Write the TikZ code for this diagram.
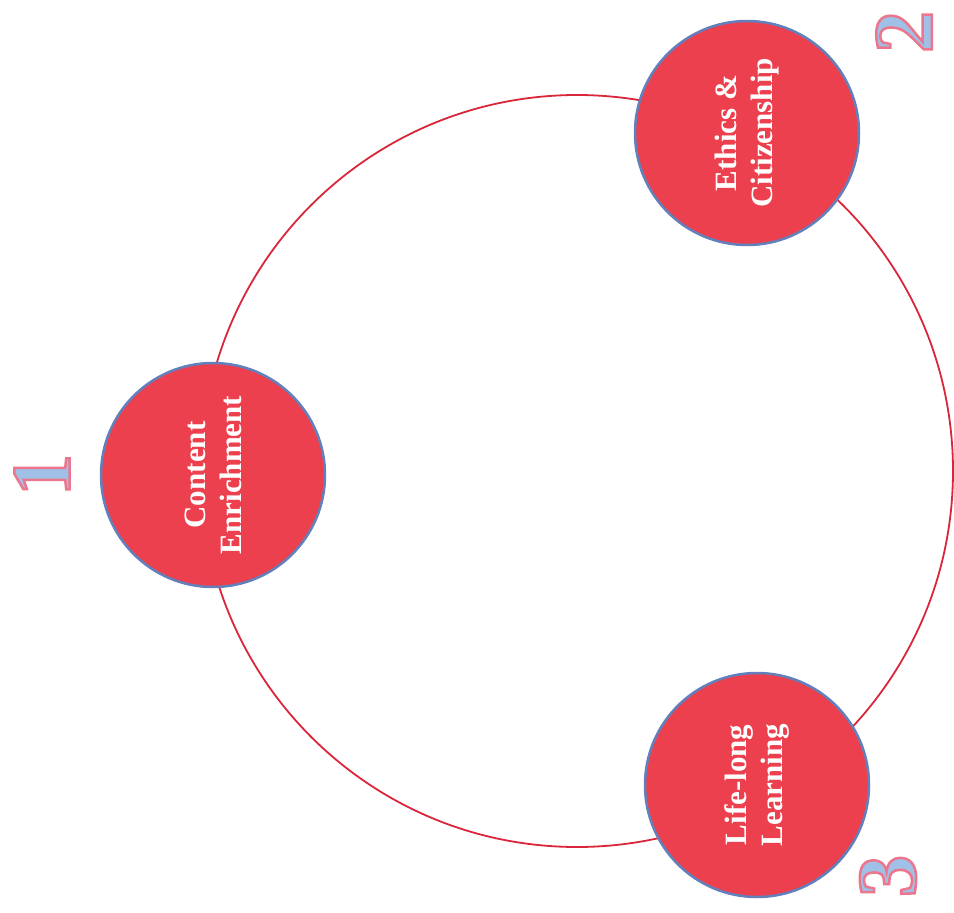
\documentclass[tikz,border=0pt]{standalone}
\usepackage{fontspec}
\setmainfont{Liberation Serif}
\definecolor{ringred}{RGB}{218,38,58}
\definecolor{pillred}{RGB}{236,64,78}
\definecolor{pillrim}{RGB}{98,128,188}
\definecolor{numblue}{RGB}{160,192,232}
% outlined digits: fill then stroke, pink stroke
\newcommand{\hollownum}[1]{\special{pdf:literal direct 2 Tr 2.5 w 0.925 0.463 0.549 RG}#1\special{pdf:literal direct 0 Tr}}

\begin{document}
\begin{tikzpicture}[x=1pt, y=-1pt,
        pn/.style={circle, fill=pillred, draw=pillrim, line width=2.5pt, minimum size=224pt,
          inner sep=0pt, text=white, font=\bfseries\fontsize{31}{36}\selectfont,
          align=center, rotate=90},
        ring/.style={draw=ringred, line width=1.8pt},
        num/.style={text=numblue, font=\bfseries\fontsize{84}{84}\selectfont, rotate=90, inner sep=0pt}]
      \useasboundingbox (0,0) rectangle (954,913);
      \coordinate (hub) at (577,471);
      \draw[ring] (hub) circle [radius=376];
      \node[pn] (content) at (213,475) {Content\\Enrichment};
      \node[pn] (ethics) at (747,133) {Ethics \&\\Citizenship};
      \node[pn] (lifelong) at (757,785) {Life-long\\Learning};
      \node[num] (n1) at (42,475) {\hollownum{1}};
      \node[num] (n2) at (904,32) {\hollownum{2}};
      \node[num] (n3) at (888,876) {\hollownum{3}};
    \end{tikzpicture}
\end{document}
